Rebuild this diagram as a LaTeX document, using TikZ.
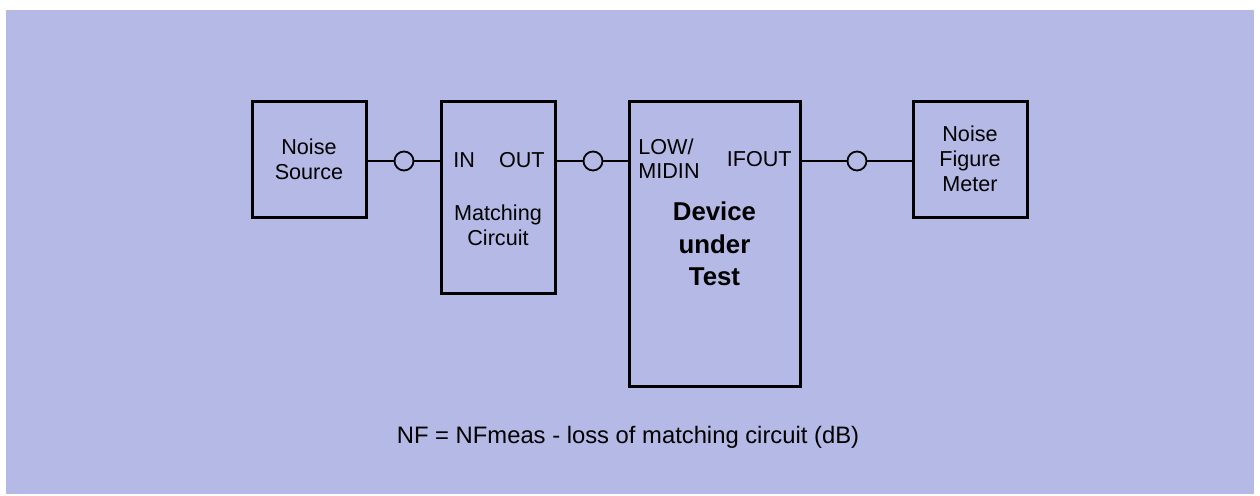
\documentclass[tikz,border=0pt]{standalone}
\usepackage{fontspec}
\setmainfont{Liberation Sans}
\usetikzlibrary{positioning,calc}
\definecolor{lavender}{RGB}{181,185,230}

\begin{document}
\begin{tikzpicture}[
      x=0.5pt, y=-0.5pt,
      block/.style={draw=black, line width=1.5pt, minimum width=57pt,
                    align=center, font=\fontsize{10.8}{12.5}\selectfont},
      port/.style={font=\fontsize{10.8}{12}\selectfont, inner sep=0pt, align=left},
      jack/.style={circle, draw=black, line width=0.9pt, minimum size=9.5pt, inner sep=0pt},
      wire/.style={draw=black, line width=0.75pt}]
    % page and background panel
    \fill[white] (0,0) rectangle (1260,495);
    \fill[lavender] (6,10) rectangle (1254,494);
    % the four instruments
    \node[block, minimum height=58pt] (src) at (309,159) {Noise\\Source};
    \node[block, minimum height=96pt] (match) at (498,197) {};
    \node[block, minimum width=85.5pt, minimum height=142.5pt] (dut) at (714.5,243.5) {};
    \node[block, minimum height=58pt] (meter) at (970,159) {Noise\\Figure\\Meter};
    % texts inside the boxes
    \node[port, anchor=west] (in) at (453,160) {IN};
    \node[port, anchor=east] (out) at (545,160) {OUT};
    \node[port, align=center, font=\fontsize{10.8}{12.5}\selectfont] (mlab) at (498,225) {Matching\\Circuit};
    \node[port, anchor=west] (lo) at (638,159) {LOW/\\MIDIN};
    \node[port, anchor=east] (ifo) at (792,159) {IFOUT};
    \node[align=center, font=\bfseries\fontsize{12.9}{16.2}\selectfont] (dlab) at (714.5,244) {Device\\under\\Test};
    % connectors
    \node[jack] (j1) at (404,161) {};
    \node[jack] (j2) at (593,161) {};
    \node[jack] (j3) at (857,161) {};
    \draw[wire] (src.east |- j1) -- (j1) -- (match.west |- j1);
    \draw[wire] (match.east |- j2) -- (j2) -- (dut.west |- j2);
    \draw[wire] (dut.east |- j3) -- (j3) -- (meter.west |- j3);
    % formula
    \node[font=\fontsize{11.9}{13}\selectfont] (nf) at (628,437) {NF = NFmeas - loss of matching circuit (dB)};
  \end{tikzpicture}
\end{document}
